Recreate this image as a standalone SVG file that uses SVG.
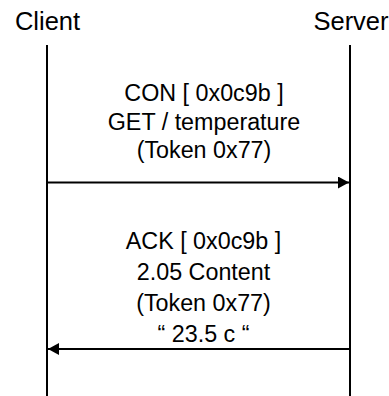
<svg xmlns="http://www.w3.org/2000/svg" width="389" height="396" viewBox="0 0 389 396">
<style>
text{font-family:"Liberation Sans",Arial,sans-serif;fill:#000;text-anchor:middle}
.h{font-size:25.5px}
.m{font-size:23.3px}
.life{stroke:#000;stroke-width:2;fill:none}
.msg{stroke:#000;stroke-width:2;fill:none}
</style>
<defs>
<marker id="ah" viewBox="0 0 11 12" refX="11" refY="6" markerWidth="11" markerHeight="12" markerUnits="userSpaceOnUse" orient="auto">
<path d="M0,0 L11,6 L0,12 Z" fill="#000"/>
</marker>
</defs>
<g id="client">
<text class="h" x="47.5" y="30">Client</text>
<line class="life" x1="47" y1="45" x2="47" y2="396"/>
</g>
<g id="server">
<text class="h" x="351" y="30">Server</text>
<line class="life" x1="350" y1="45" x2="350" y2="396"/>
</g>
<g id="connectors">
<line class="msg" x1="47" y1="182.5" x2="349" y2="182.5" marker-end="url(#ah)"/>
<line class="msg" x1="350" y1="349" x2="48" y2="349" marker-end="url(#ah)"/>
</g>
<g id="label-con">
<text class="m" x="204" y="101">CON [ 0x0c9b ]</text>
<text class="m" x="204" y="129.5">GET / temperature</text>
<text class="m" x="204" y="158">(Token 0x77)</text>
</g>
<g id="label-ack">
<text class="m" x="203.5" y="249">ACK [ 0x0c9b ]</text>
<text class="m" x="203.5" y="279.5">2.05 Content</text>
<text class="m" x="203.5" y="311">(Token 0x77)</text>
<text class="m" x="203.5" y="341.5">“ 23.5 c “</text>
</g>
</svg>
